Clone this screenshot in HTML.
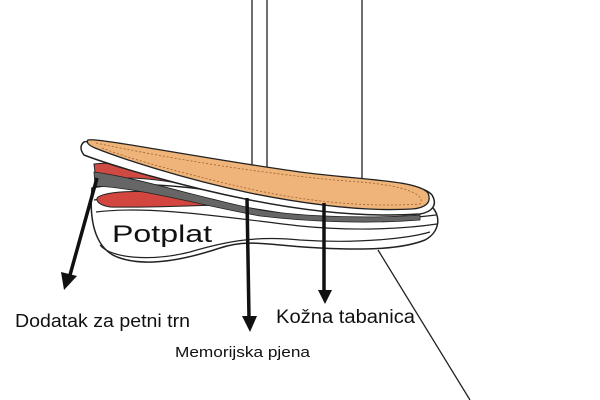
<!DOCTYPE html>
<html><head><meta charset="utf-8"><style>
html,body{margin:0;padding:0;background:#fff;width:600px;height:400px;overflow:hidden}
text{font-family:"Liberation Sans",sans-serif;fill:#111}
</style></head><body>
<svg width="600" height="400" viewBox="0 0 600 400" xmlns="http://www.w3.org/2000/svg">
<g stroke="#222" stroke-width="1.3" fill="none">
<line x1="252" y1="0" x2="252" y2="170"/>
<line x1="267" y1="0" x2="267" y2="168"/>
<line x1="362" y1="0" x2="362" y2="182"/>
<line x1="378" y1="250" x2="470" y2="400"/>
</g>
<!-- sole -->
<path d="M92,188 C140,178 220,190 300,205 C360,214 410,205 430,205 C442,215 440,232 425,240 C400,250 360,250 320,248 C270,246 250,238 220,248 C190,258 150,268 120,258 C100,252 88,230 92,188 Z" fill="#fff" stroke="#222" stroke-width="1.5"/>
<path d="M94,200 C150,190 230,205 300,216 C360,224 410,218 436,215" fill="none" stroke="#222" stroke-width="1.2"/>
<path d="M96,212 C150,205 230,218 300,226 C360,232 410,228 437,224" fill="none" stroke="#222" stroke-width="1.2"/>
<path d="M100,245 C110,258 150,262 190,252 C230,240 260,236 300,240 C360,244 410,238 430,232" fill="none" stroke="#222" stroke-width="1.2"/>
<!-- red foam -->
<path d="M98,197 C110,190 150,190 190,195 C210,198 225,202 230,205 C200,205 150,208 110,207 C98,205 95,200 98,197 Z" fill="#d2463f" stroke="#222" stroke-width="1"/>
<path d="M94,164 C120,160 170,172 210,185 L210,190 C170,180 130,175 96,180 Z" fill="#cf4a42" stroke="#222" stroke-width="1"/>
<path d="M94,172 C140,178 200,198 260,210 C310,218 380,218 420,215 L420,220 C370,224 310,222 260,216 C200,205 140,188 95,186 Z" fill="#666" stroke="#222" stroke-width="0.8"/>
<!-- insole -->
<path d="M84,142 C90,138 200,160 300,175 C360,184 420,180 432,195 C438,205 432,212 420,214 C360,218 300,210 250,200 C180,186 110,165 84,155 C80,150 80,145 84,142 Z" fill="#fff" stroke="#222" stroke-width="1.5"/>
<path d="M88,140 C95,137 200,158 300,172 C360,180 418,180 428,193 C432,203 425,208 412,209 C360,212 300,203 250,193 C180,178 120,158 95,148 C88,145 86,142 88,140 Z" fill="#efb47a" stroke="#222" stroke-width="1.3"/>
<path d="M96,143 C200,165 300,178 360,182 C410,186 426,196 420,204 C360,208 300,200 250,189 C180,173 120,156 100,147" fill="none" stroke="#a0612e" stroke-width="0.8" stroke-dasharray="2,2"/>
<text x="112" y="242" font-size="24" textLength="100" lengthAdjust="spacingAndGlyphs">Potplat</text>
<!-- arrows -->
<g stroke="#111" stroke-width="3.5">
<line x1="97" y1="178" x2="70" y2="275"/>
<line x1="247" y1="198" x2="249" y2="318"/>
<line x1="324" y1="203" x2="324" y2="292"/>
</g>
<g fill="#111">
<polygon points="64,290 61,272 77,276"/>
<polygon points="250,332 242,316 257,316"/>
<polygon points="325,304 318,290 332,290"/>
</g>
<text x="15" y="327" font-size="18" textLength="175" lengthAdjust="spacingAndGlyphs">Dodatak za petni trn</text>
<text x="276" y="323" font-size="19" textLength="139" lengthAdjust="spacingAndGlyphs">Kožna tabanica</text>
<text x="175" y="357" font-size="15" textLength="135" lengthAdjust="spacingAndGlyphs">Memorijska pjena</text>
</svg>
</body></html>
